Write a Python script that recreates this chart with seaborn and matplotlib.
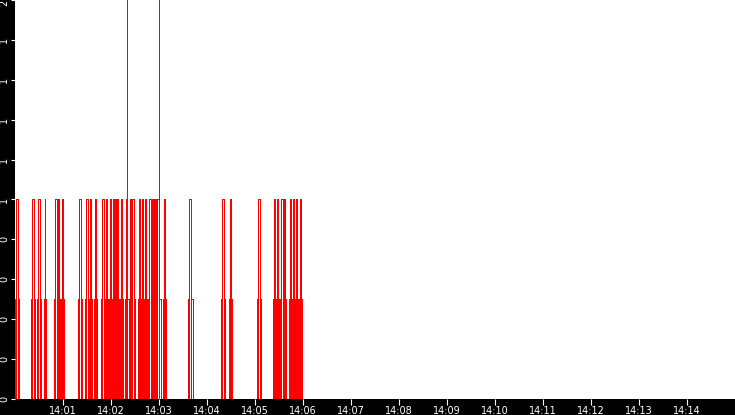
import matplotlib
matplotlib.use("Agg")
import matplotlib.pyplot as plt
from matplotlib.ticker import FixedLocator, FuncFormatter
import seaborn as sns

# seconds after 14:00:00 -- each pulse goes 0 -> 0.5 -> peak -> 0.5 -> 0
rise = [0, 20, 27.5, 36.25, 48.75, 53, 57.5, 78.75, 87.5, 92.5, 98.75,
        107.5, 112.5, 117.5, 121, 124.5, 127, 131.25, 137.5, 139.5, 142.5,
        146, 153.75, 157.5, 161.25, 166.25, 170.5, 173, 175.5, 177.75, 180,
        184.75, 216.25, 257.5, 267.5, 302.5, 322.5, 326.25, 331.25, 336,
        342.5, 346.25, 350, 355]
peak_on = [0.9, 21.25, 28.75, 37.1, 50, 54.25, 58.75, 80, 88.75, 93.75, 100,
           108.75, 113.75, 118.75, 122.5, 125, 127.5, 132.5, 138.75, 139.5, 143.75,
           146.25, 155, 158.75, 162.5, 167.5, 171.25, 173.75, 176.25, 178.1, 180,
           186, 217.5, 258.75, 268.75, 303.75, 323.75, 327.5, 332.5, 336.25,
           343.75, 347.5, 351.25, 356.25]
peak_off = [3.75, 23.75, 31.25, 38.1, 52.1, 55.25, 59.75, 82.5, 91.25, 94.75, 101,
            111.25, 114.75, 119.75, 123.5, 126, 128.5, 133.5, 139.5, 140.1, 144.75,
            148.75, 156, 159.75, 163.5, 170, 172.25, 174.75, 177.5, 180, 180.4,
            187.5, 220, 261.25, 269.75, 306.25, 324.75, 328.5, 335, 337.25,
            344.75, 348.5, 352.25, 357.25]
fall = [5.5, 25, 32.5, 38.75, 53, 56.25, 61.25, 84.25, 92.5, 96.25, 102.5,
        112.5, 116.25, 121, 124.5, 127, 130, 135, 139.5, 142, 146,
        150, 157.5, 161.25, 165, 170.5, 173, 175.5, 177.75, 180, 182.5,
        189, 222, 263, 271, 308, 326.25, 330, 336, 338.75,
        346.25, 350, 353.75, 358.75]
peak_val = [1] * 19 + [5] + [1] * 10 + [5] + [1] * 13
shoulder = 0.5

tick_minutes = list(range(1, 15))
tick_labels = [f"14:{m:02d}" for m in tick_minutes]

# build the intervals table
mids, weights, edges = [], [], set()
for a, b, c, d, p in zip(rise, peak_on, peak_off, fall, peak_val):
    for lo, hi, v in ((a, b, shoulder), (b, c, p), (c, d, shoulder)):
        if hi - lo <= 0:
            continue
        mids.append((lo + hi) / 2)
        weights.append(v)
        edges.update([lo, hi])
edges = sorted(edges)

fig = plt.figure(figsize=(7.35, 4.15), dpi=100, facecolor="black")
ax = fig.add_axes([15 / 735, 16 / 415, 720 / 735, 399 / 415])
ax.set_facecolor("white")

sns.histplot(x=mids, weights=weights, bins=edges, fill=False, element="bars",
             color="#ff0000", linewidth=0.5, antialiased=False, ax=ax)
for patch in ax.patches:
    patch.set_facecolor("none")
    if patch.get_height() == 0:
        patch.set_visible(False)

ax.set_xlim(0, 900)
ax.set_ylim(0, 2)
ax.set_xlabel("")
ax.set_ylabel("")
for s in ax.spines.values():
    s.set_visible(False)

ax.xaxis.set_major_locator(FixedLocator([m * 60 for m in tick_minutes]))
ax.set_xticklabels(tick_labels)
ax.yaxis.set_major_locator(FixedLocator([i * 0.2 for i in range(11)]))
ax.yaxis.set_major_formatter(FuncFormatter(lambda v, pos: f"{int(round(v, 6))}"))

ax.tick_params(axis="x", colors="white", labelsize=7, length=4, width=0.8, pad=1)
ax.tick_params(axis="y", colors="white", labelsize=7, length=3, width=0.8, pad=1)
ylabs = ax.get_yticklabels()
for lab in ylabs:
    lab.set_rotation(90)
    lab.set_va("center")
ylabs[-1].set_va("top")

fig.savefig("out.png", dpi=100, facecolor="black")
